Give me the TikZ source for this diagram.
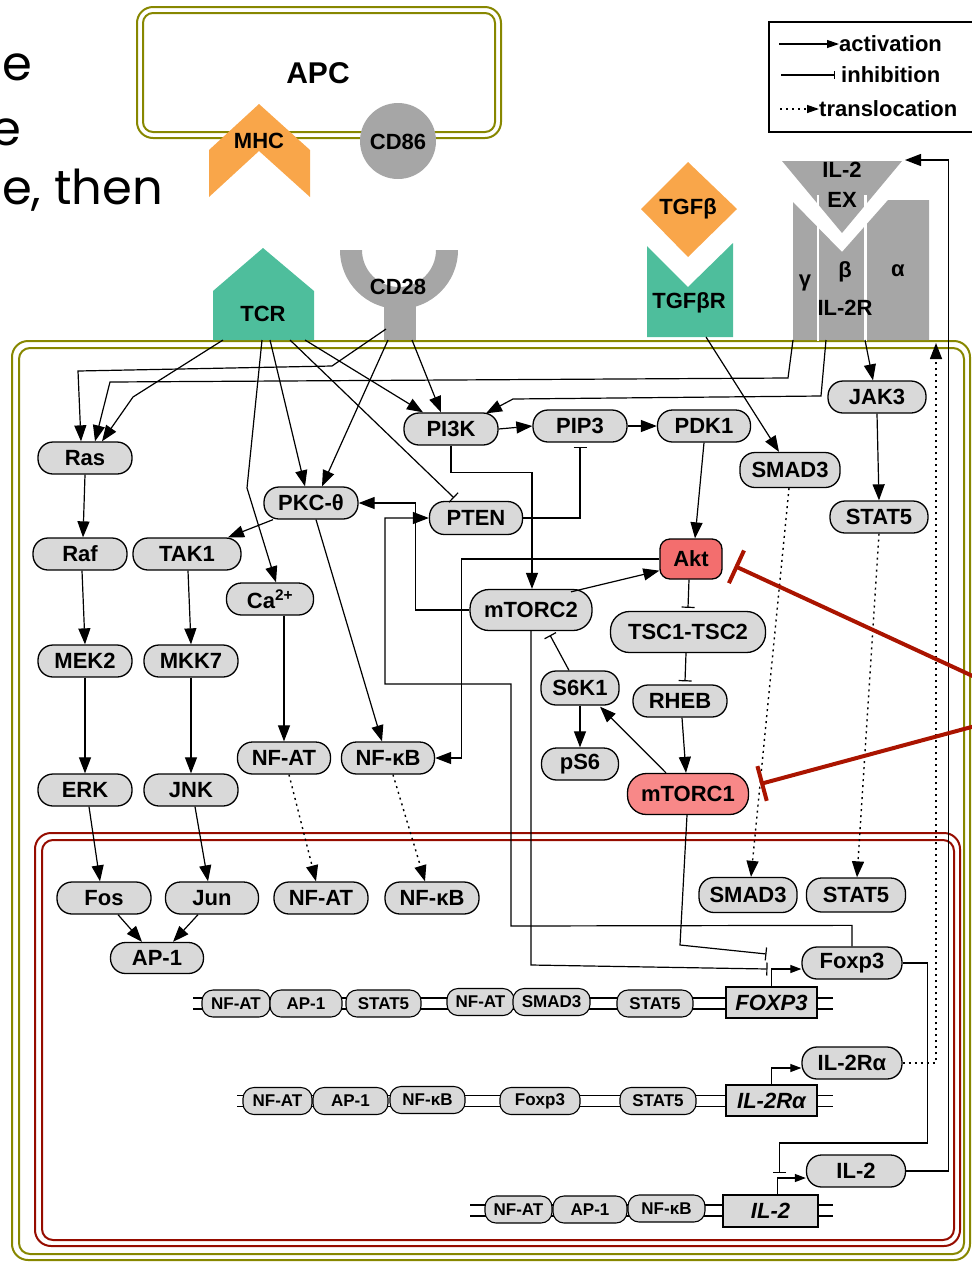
\documentclass[tikz,border=0pt]{standalone}
\usepackage{fontspec}
\setmainfont{Liberation Sans}
\newfontfamily\gothic{Poppins}
\usetikzlibrary{arrows.meta,calc}

\definecolor{molgray}{RGB}{217,217,217}
\definecolor{aktred}{RGB}{243,110,110}
\definecolor{torred}{RGB}{248,136,136}
\definecolor{recgreen}{RGB}{78,190,156}
\definecolor{ligorange}{RGB}{249,166,74}
\definecolor{recgray}{RGB}{166,166,166}
\definecolor{membrane}{RGB}{135,135,0}
\definecolor{nucred}{RGB}{150,12,0}
\definecolor{inhred}{RGB}{170,20,0}

\newcommand\fMol{\fontsize{22}{30}\selectfont\bfseries}
\newcommand\fSite{\fontsize{17}{18}\selectfont\bfseries}
\newcommand\fGene{\fontsize{22}{24}\selectfont\bfseries\itshape}
\newcommand\fLeg{\fontsize{22}{24}\selectfont\bfseries}

\begin{document}
\begin{tikzpicture}[x=1pt,y=-1pt,
  mol/.style={draw, line width=1.3pt, fill=molgray, rounded corners=15pt,
    minimum height=32pt, inner sep=0pt, font=\fMol},
  site/.style={draw, line width=1.1pt, fill=molgray, rounded corners=11pt,
    minimum height=27pt, inner sep=0pt, font=\fSite},
  gene/.style={draw, line width=1.1pt, fill=molgray, minimum width=91pt,
    minimum height=31pt, inner sep=0pt, font=\fGene},
  lbl/.style={inner sep=0pt, font=\fMol},
  act/.style={line width=1.2pt, -{Triangle[length=16pt,width=12pt]}},
  inh/.style={line width=1.2pt, -{Bar[width=13pt]}},
  trans/.style={line width=1.4pt, dash pattern=on 2pt off 4pt,
    -{Triangle[length=16pt,width=12pt]}},
  tss/.style={line width=1.2pt, -{Triangle[length=11pt,width=8pt]}},
  redinh/.style={draw=inhred, line width=4pt, -{Bar[width=36pt]}},
  strand/.style={line width=1.1pt},
  wall/.style={line width=2pt},
]
\useasboundingbox (0,0) rectangle (972,1262);

% ---------- text fragments ----------
\node[anchor=base west, inner sep=0pt, font=\gothic\fontsize{48}{48}\selectfont] (tx1) at (2,80) {e};
\node[anchor=base west, inner sep=0pt, font=\gothic\fontsize{48}{48}\selectfont] (tx2) at (-9,145) {e};
\node[anchor=base west, inner sep=0pt, font=\gothic\fontsize{48}{48}\selectfont] (tx3) at (2,204) {e, then};

% ---------- APC ----------
\draw[wall, draw=membrane, rounded corners=16pt] (137,7) rectangle (501,138);
\draw[wall, draw=membrane, rounded corners=10pt] (143,13) rectangle (495,132);
\node[inner sep=0pt, font=\fontsize{30}{30}\selectfont\bfseries] (APC) at (318,73) {APC};
\fill[ligorange] (209,150) -- (259,104) -- (310,150) -- (310,197) -- (259,151) -- (209,197) -- cycle;
\node[lbl] (MHC) at (259,141) {MHC};
\fill[recgray] (398,141) circle (38);
\node[lbl] (CD86) at (398,142) {CD86};

% ---------- cell and nucleus ----------
\draw[wall, draw=membrane, rounded corners=16pt] (12,341) rectangle (970,1260);
\draw[wall, draw=membrane, rounded corners=11pt] (19,348) rectangle (964,1254);
\draw[wall, draw=nucred, rounded corners=16pt] (35,833) rectangle (960,1246);
\draw[wall, draw=nucred, rounded corners=11pt] (42,840) rectangle (954,1240);

% ---------- receptors and ligands ----------
\fill[recgreen] (213,340) -- (213,291) -- (263,248) -- (314,291) -- (314,340) -- cycle;
\node[lbl] (TCR) at (263,314) {TCR};
\begin{scope}
  \clip (330,250) rectangle (470,320);
  \fill[recgray, even odd rule] (399,250) circle (59) (399,250) circle (37);
\end{scope}
\fill[recgray] (384,296) rectangle (416,340);
\node[lbl] (CD28) at (398,287) {CD28};

\fill[ligorange] (641,209) -- (688,162) -- (737,209) -- (688,257) -- cycle;
\node[lbl] (TGFb) at (688,209) {TGFβ};
\fill[recgreen] (647,337) -- (647,246) -- (688,287) -- (733,243) -- (733,337) -- cycle;
\node[lbl] (TGFbR) at (689,303) {TGFβR};

\fill[recgray] (782,161) -- (902,161) -- (842,233) -- cycle;
\node[lbl, align=center] (IL2EX) at (842,185) {IL-2\\EX};
\fill[recgray] (793,340) -- (793,202) -- (842,252) -- (888,200) -- (929,200) -- (929,340) -- cycle;
\draw[white, line width=2.5pt] (818,195) -- (818,341) (865.5,195) -- (865.5,341);
\node[lbl] (gam) at (805,283) {γ};
\node[lbl] (bet) at (845,272) {β};
\node[lbl] (alp) at (898,271) {α};
\node[lbl] (IL2R) at (845,308) {IL-2R};

% ---------- legend ----------
\draw[line width=1.3pt] (769,22) rectangle (995,132);
\node[anchor=west, inner sep=0pt, font=\fLeg] (lgAct) at (839,44) {activation};
\node[anchor=west, inner sep=0pt, font=\fLeg] (lgInh) at (841,75) {inhibition};
\node[anchor=west, inner sep=0pt, font=\fLeg] (lgTra) at (819,109) {translocation};
\coordinate (lgA0) at (779,44);
\coordinate (lgI0) at (781,75);
\coordinate (lgT0) at (780,109);
\draw[line width=1.2pt, -{Triangle[length=12pt,width=8pt]}] (lgA0) -- (lgAct.west);
\draw[line width=1.2pt, -{Bar[width=8pt]}] (lgI0) -- ($(lgInh.west)+(-6,0)$);
\draw[line width=1.3pt, dash pattern=on 2pt off 4pt, -{Triangle[length=12pt,width=8pt]}] (lgT0) -- (lgTra.west);

% ---------- cytoplasmic molecules ----------
\node[mol, minimum width=94pt] (Ras) at (85,458) {Ras};
\node[mol, minimum width=94pt] (Raf) at (80,554) {Raf};
\node[mol, minimum width=108pt] (TAK1) at (187,554) {TAK1};
\node[mol, minimum width=94pt] (MEK2) at (85,661) {MEK2};
\node[mol, minimum width=94pt] (MKK7) at (191,661) {MKK7};
\node[mol, minimum width=94pt] (ERK) at (85,790) {ERK};
\node[mol, minimum width=94pt] (JNK) at (191,790) {JNK};
\node[mol, minimum width=94pt] (PKC) at (311,503) {PKC-θ};
\node[mol, minimum width=87pt] (Ca) at (270,599) {Ca\textsuperscript{2+}};
\node[mol, minimum width=93pt] (NFATc) at (284,758) {NF-AT};
\node[mol, minimum width=93pt] (NFkBc) at (388,758) {NF-κB};
\node[mol, minimum width=94pt] (PI3K) at (451,429) {PI3K};
\node[mol, minimum width=94pt] (PIP3) at (580,426) {PIP3};
\node[mol, minimum width=93pt] (PDK1) at (704,426) {PDK1};
\node[mol, minimum width=93pt, minimum height=33pt] (PTEN) at (476,518) {PTEN};
\node[mol, minimum width=98pt] (JAK3) at (877,397) {JAK3};
\node[mol, minimum width=100pt, minimum height=35pt] (SMAD3c) at (790,470) {SMAD3};
\node[mol, minimum width=98pt] (STAT5c) at (879,517) {STAT5};
\node[mol, fill=aktred, rounded corners=10pt, minimum width=62pt, minimum height=40pt] (Akt) at (691,559) {Akt};
\node[mol, rounded corners=19pt, minimum width=122pt, minimum height=41pt] (mTORC2) at (531,610) {mTORC2};
\node[mol, rounded corners=19pt, minimum width=155pt, minimum height=41pt] (TSC) at (688,632) {TSC1-TSC2};
\node[mol, minimum width=78pt, minimum height=34pt] (S6K1) at (580,688) {S6K1};
\node[mol, minimum width=94pt] (RHEB) at (680,701) {RHEB};
\node[mol, minimum width=77pt] (pS6) at (580,764) {pS6};
\node[mol, fill=torred, rounded corners=19pt, minimum width=121pt, minimum height=41pt] (mTORC1) at (688,794) {mTORC1};

% ---------- nuclear molecules ----------
\node[mol, minimum width=94pt] (Fos) at (104,898) {Fos};
\node[mol, minimum width=93pt] (Jun) at (212,898) {Jun};
\node[mol, minimum width=94pt] (NFATn) at (321,898) {NF-AT};
\node[mol, minimum width=94pt] (NFkBn) at (432,898) {NF-κB};
\node[mol, minimum width=93pt, minimum height=31pt] (AP1) at (157,958) {AP-1};
\node[mol, minimum width=98pt, minimum height=35pt] (SMAD3n) at (748,895) {SMAD3};
\node[mol, minimum width=99pt, minimum height=34pt] (STAT5n) at (856,895) {STAT5};
\node[mol, minimum width=100pt] (Foxp3) at (852,963) {Foxp3};
\node[mol, minimum width=100pt] (IL2Ra) at (852,1063) {IL-2Rα};
\node[mol, minimum width=99pt] (IL2) at (856,1171) {IL-2};

% ---------- gene loci ----------
\draw[strand] (193,998) -- (833,998) (193,1009) -- (833,1009);
\draw[strand] (237,1095.5) -- (833,1095.5) (237,1106.5) -- (833,1106.5);
\draw[strand] (470,1205) -- (833,1205) (470,1216) -- (833,1216);

\node[site, minimum width=68pt] (s1a) at (236,1003.5) {NF-AT};
\node[site, minimum width=72pt] (s1b) at (306,1003.5) {AP-1};
\node[site, minimum width=75pt] (s1c) at (383.5,1003.5) {STAT5};
\node[site, minimum width=67pt] (s1d) at (480.5,1002) {NF-AT};
\node[site, minimum width=77pt] (s1e) at (551.5,1002) {SMAD3};
\node[site, minimum width=76pt] (s1f) at (655,1003.5) {STAT5};
\node[gene] (gFOXP3) at (771.5,1002.5) {FOXP3};

\node[site, minimum width=69pt] (s2a) at (277.5,1101) {NF-AT};
\node[site, minimum width=75pt] (s2b) at (350.5,1101) {AP-1};
\node[site, minimum width=75pt] (s2c) at (427.5,1100) {NF-κB};
\node[site, minimum width=80pt] (s2d) at (540,1101) {Foxp3};
\node[site, minimum width=76pt] (s2e) at (658,1101) {STAT5};
\node[gene] (gIL2Ra) at (771.5,1100.5) {IL-2Rα};

\node[site, minimum width=67pt] (s3a) at (518.5,1209.5) {NF-AT};
\node[site, minimum width=74pt] (s3b) at (590,1209.5) {AP-1};
\node[site, minimum width=77pt] (s3c) at (666.5,1208.5) {NF-κB};
\node[gene, minimum width=95pt, minimum height=32pt] (gIL2) at (770.5,1211) {IL-2};

% ---------- anchor points on receptors ----------
\coordinate (tcrA) at (223,340);
\coordinate (tcrB) at (262,340);
\coordinate (tcrC) at (270,340);
\coordinate (tcrD) at (290,340);
\coordinate (tcrE) at (305,340);
\coordinate (cd28A) at (386,329);
\coordinate (cd28B) at (388,340);
\coordinate (cd28C) at (412,340);
\coordinate (gamA) at (793,340);
\coordinate (betA) at (826,340);
\coordinate (alpA) at (865,340);
\coordinate (tgfrA) at (706,337);
\coordinate (exR) at (905,160);
\coordinate (memIn) at (936,343);
\coordinate (redA) at (990,684);
\coordinate (redB) at (990,722);
\coordinate (tss1) at (771.5,969);
\coordinate (tss2) at (771.5,1068);
\coordinate (tss3) at (777.5,1178);

% ---------- membrane signalling ----------
\draw[act] (tcrA) -- (133,397) -- ($(Ras.north)+(17,0)$);
\draw[act] (cd28A) -- (332,366) -- (78,371) -- ($(Ras.north)+(-4,0)$);
\draw[act] (gamA) -- (788,378) -- (110,382) -- ($(Ras.north)+(10,0)$);
\draw[act] (tcrB) -- (247,488) -- ($(Ca.north)+(6,0)$);
\draw[act] (tcrC) -- ($(PKC.north)+(-6,0)$);
\draw[act] (cd28B) -- ($(PKC.north)+(11,0)$);
\draw[inh] (tcrD) -- ($(PTEN.north)+(-22,-3)$);
\draw[act] (tcrE) -- ($(PI3K.north)+(-28,0)$);
\draw[act] (cd28C) -- ($(PI3K.north)+(-10,0)$);
\draw[act] (betA) -- (821,396) -- (513,399) -- ($(PI3K.north)+(35,1)$);
\draw[act] (tgfrA) -- ($(SMAD3c.north)+(-11,0)$);
\draw[act] (alpA) -- ($(JAK3.north)+(-4,0)$);
\draw[act] (JAK3.south) -- (STAT5c.north);

% ---------- MAPK branches ----------
\draw[act] (Ras.south) -- ($(Raf.north)+(3,0)$);
\draw[act] ($(Raf.south)+(2,0)$) -- (MEK2.north);
\draw[act] (MEK2.south) -- (ERK.north);
\draw[act] ($(ERK.south)+(4,0)$) -- ($(Fos.north)+(-4,0)$);
\draw[act] ($(TAK1.south)+(1,0)$) -- (MKK7.north);
\draw[act] (MKK7.south) -- (JNK.north);
\draw[act] ($(JNK.south)+(4,0)$) -- ($(Jun.north)+(-4,0)$);
\draw[act] ($(Fos.south)+(14,0)$) -- ($(AP1.north)+(-15,0)$);
\draw[act] ($(Jun.south)+(-14,0)$) -- ($(AP1.north)+(16,0)$);
\draw[act] ($(PKC.south)+(-38,0)$) -- ($(TAK1.north)+(41,0)$);
\draw[act] ($(PKC.south)+(5,0)$) -- ($(NFkBc.north)+(-6,0)$);
\draw[act] ($(Ca.south)+(14,0)$) -- (NFATc.north);
\draw[trans] ($(NFATc.south)+(5,0)$) -- ($(NFATn.north)+(-5,0)$);
\draw[trans] ($(NFkBc.south)+(5,0)$) -- ($(NFkBn.north)+(-7,0)$);

% ---------- PI3K / Akt / mTOR ----------
\draw[act] (PI3K.east) -- (PIP3.west);
\draw[act] (PIP3.east) -- (PDK1.west);
\draw[act] (PDK1.south) -- ($(Akt.north)+(4,0)$);
\draw[inh] (PTEN.east) -| ($(PIP3.south)+(0,4)$);
\draw[act] (PI3K.south) -- ++(0,27) -| ($(mTORC2.north)+(1,0)$);
\draw[act] ($(mTORC2.north)+(40,3)$) -- ($(Akt.south west)+(0,-9)$);
\draw[inh] ($(Akt.south)+(-2,0)$) -- ($(TSC.north)+(0,-3)$);
\draw[inh] ($(TSC.south)+(-2,0)$) -- ($(RHEB.north)+(5,-3)$);
\draw[act] ($(RHEB.south)+(2,0)$) -- ($(mTORC1.north)+(-2,0)$);
\draw[act] ($(mTORC1.north)+(-22,0)$) -- ($(S6K1.south)+(20,1)$);
\draw[act] (S6K1.south) -- (pS6.north);
\draw[inh] ($(S6K1.north)+(-11,0)$) -- ($(mTORC2.south)+(19,4)$);
\draw[act] (mTORC2.west) -- ++(-54,0) |- (PKC.east);
\draw[act] (Akt.west) -- ++(-198,0) |- (NFkBc.east);
\draw[trans] ($(SMAD3c.south)+(-1,0)$) -- ($(SMAD3n.north)+(3,0)$);
\draw[trans] (STAT5c.south) -- ($(STAT5n.north)+(1,0)$);

% ---------- gene regulation ----------
\draw[tss] (gFOXP3.north) -- (tss1) -- (tss1 -| Foxp3.west);
\draw[tss] (gIL2Ra.north) -- (tss2) -- (tss2 -| IL2Ra.west);
\draw[tss] ($(gIL2.north)+(7,0)$) -- (tss3) -- (tss3 -| IL2.west);
\draw[inh] ($(mTORC1.south)+(-1,0)$) -- (680,945) -- ($(tss1)+(-5,-15)$);
\draw[inh] (mTORC2.south) -- (531,965) -- ($(tss1)+(-4,0)$);
\draw[inh] (Foxp3.east) -- ++(25,0) |- ($(tss3)+(2,-35)$) -- ($(tss3)+(2,-5)$);
\draw[act] (Foxp3.north) -- ++(0,-21) -- (511,926) -- (511,684) -- (385,684) |- (PTEN.west);
\draw[act] (IL2.east) -- ++(42,0) |- (exR);
\draw[trans] (IL2Ra.east) -| (memIn);

% ---------- inhibition of Akt and mTORC1 ----------
\draw[redinh] (redA) -- ($(Akt.east)+(12,7)$);
\draw[redinh] (redB) -- ($(mTORC1.east)+(11,-10)$);
\end{tikzpicture}
\end{document}
